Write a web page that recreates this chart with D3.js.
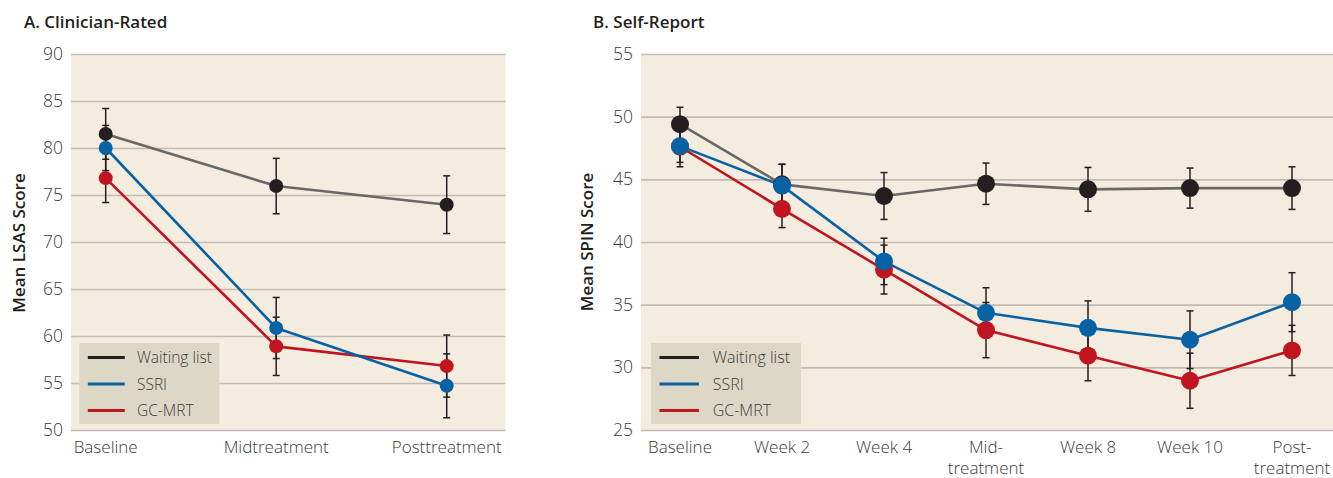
<!DOCTYPE html>
<html>
<head>
<meta charset="utf-8">
<script src="https://cdn.jsdelivr.net/npm/d3@7/dist/d3.min.js"></script>
<style>
  html, body { margin: 0; padding: 0; background: #fff; }
  svg { display: block; font-family: "Open Sans", sans-serif; }
</style>
</head>
<body>
<svg id="chart" width="1333" height="478"></svg>
<script>
// ---- Panel A: clinician-rated LSAS ----
const categoriesA = ["Baseline", "Midtreatment", "Posttreatment"];
const waitA = [81.5, 75.95, 73.97];
const waitErrA = [2.7, 2.95, 3.07];
const ssriA = [80.0, 60.85, 54.7];
const ssriErrA = [2.4, 3.25, 3.4];
const gcmrtA = [76.8, 58.9, 56.8];
const gcmrtErrA = [2.6, 3.1, 3.3];
const yTicksA = [50, 55, 60, 65, 70, 75, 80, 85, 90];

// ---- Panel B: self-report SPIN ----
const categoriesB = ["Baseline", "Week 2", "Week 4", "Mid-\ntreatment", "Week 8", "Week 10", "Post-\ntreatment"];
const waitB = [49.4, 44.6, 43.67, 44.65, 44.2, 44.3, 44.3];
const waitErrB = [1.35, 1.6, 1.87, 1.65, 1.75, 1.6, 1.7];
const ssriB = [47.65, 44.5, 38.45, 34.35, 33.15, 32.2, 35.2];
const ssriErrB = [1.3, 1.7, 1.85, 2.0, 2.15, 2.3, 2.35];
const gcmrtB = [47.6, 42.65, 37.8, 32.97, 30.93, 28.93, 31.35];
const gcmrtErrB = [1.6, 1.5, 1.95, 2.2, 2.0, 2.2, 2.0];
const yTicksB = [25, 30, 35, 40, 45, 50, 55];

const seriesNames = ["Waiting list", "SSRI", "GC-MRT"];

const COLORS = {
  "Waiting list": { line: "#686868", dot: "#231f20", legend: "#231f20" },
  "SSRI": { line: "#0762a3", dot: "#0762a3", legend: "#0762a3" },
  "GC-MRT": { line: "#c0141f", dot: "#c0141f", legend: "#c0141f" }
};

const svg = d3.select("#chart");

function panel(cfg) {
  const g = svg.append("g");
  const x = d3.scalePoint().domain(cfg.categories).range(cfg.pointRange);
  const y = d3.scaleLinear().domain(cfg.yDomain).range([cfg.bottom, cfg.top]);

  // plot background
  g.append("rect")
    .attr("x", cfg.left).attr("y", cfg.top)
    .attr("width", cfg.right - cfg.left).attr("height", cfg.bottom - cfg.top)
    .attr("fill", "#f5ece0");

  // gridlines + tick labels
  const yAxis = d3.axisLeft(y).tickValues(cfg.yTicks).tickSize(-(cfg.right - cfg.left)).tickPadding(8);
  const ya = g.append("g").attr("transform", `translate(${cfg.left},0)`).call(yAxis);
  ya.select(".domain").remove();
  ya.selectAll(".tick line").attr("stroke", "#c3bcb6").attr("stroke-width", 1.6);
  ya.selectAll(".tick text")
    .attr("fill", "#3b3b3b").attr("font-size", 17.5).attr("font-family", "'Open Sans', sans-serif")
    .attr("font-weight", 300);

  // x labels
  const xl = g.append("g");
  cfg.categories.forEach(c => {
    const parts = c.split("\n");
    const t = xl.append("text")
      .attr("x", x(c)).attr("y", cfg.bottom + 23)
      .attr("text-anchor", "middle")
      .attr("fill", "#3b3b3b").attr("font-size", 17).attr("font-weight", 300);
    parts.forEach((p, i) => {
      t.append("tspan").attr("x", x(c)).attr("dy", i === 0 ? 0 : 21).text(p);
    });
  });

  // title
  g.append("text").attr("x", cfg.titleX).attr("y", 27.5)
    .attr("font-size", 17).attr("font-weight", 600).attr("fill", "#231f20")
    .text(cfg.title);

  // y axis label
  g.append("text")
    .attr("transform", `translate(${cfg.yLabelX},${cfg.yLabelY}) rotate(-90)`)
    .attr("text-anchor", "middle")
    .attr("font-size", 17).attr("font-weight", 600).attr("fill", "#231f20")
    .text(cfg.yLabel);

  const data = {
    "Waiting list": { v: cfg.wait, e: cfg.waitErr },
    "SSRI": { v: cfg.ssri, e: cfg.ssriErr },
    "GC-MRT": { v: cfg.gcmrt, e: cfg.gcmrtErr }
  };

  const line = d3.line().x(d => x(d.c)).y(d => y(d.v));
  const drawOrder = ["Waiting list", "GC-MRT", "SSRI"];

  // connecting lines
  drawOrder.forEach(name => {
    const pts = cfg.categories.map((c, i) => ({ c, v: data[name].v[i] }));
    g.append("path").datum(pts)
      .attr("d", line).attr("fill", "none")
      .attr("stroke", COLORS[name].line).attr("stroke-width", 2.6)
      .attr("stroke-linejoin", "round");
  });

  // error bars
  drawOrder.forEach(name => {
    cfg.categories.forEach((c, i) => {
      const v = data[name].v[i], e = data[name].e[i];
      const cx = x(c), y1 = y(v + e), y2 = y(v - e);
      const eb = g.append("g").attr("stroke", "#231f20").attr("stroke-width", 1.5);
      eb.append("line").attr("x1", cx).attr("x2", cx).attr("y1", y1).attr("y2", y2);
      eb.append("line").attr("x1", cx - 3.5).attr("x2", cx + 3.5).attr("y1", y1).attr("y2", y1);
      eb.append("line").attr("x1", cx - 3.5).attr("x2", cx + 3.5).attr("y1", y2).attr("y2", y2);
    });
  });

  // markers
  drawOrder.forEach(name => {
    cfg.categories.forEach((c, i) => {
      g.append("circle")
        .attr("cx", x(c)).attr("cy", y(data[name].v[i]))
        .attr("r", cfg.r).attr("fill", COLORS[name].dot);
    });
  });

  // legend
  const lg = g.append("g").attr("transform", `translate(${cfg.legend.x},${cfg.legend.y})`);
  lg.append("rect").attr("width", cfg.legend.w).attr("height", 81).attr("fill", "#ddd8c5");
  seriesNames.forEach((name, i) => {
    const ly = 14.5 + i * 26.5;
    lg.append("line").attr("x1", 8.5).attr("x2", 8.5 + cfg.legend.lineLen)
      .attr("y1", ly).attr("y2", ly)
      .attr("stroke", COLORS[name].legend).attr("stroke-width", 3);
    lg.append("text").attr("x", cfg.legend.textX).attr("y", ly + 5.5)
      .attr("font-size", cfg.legend.fs).attr("font-weight", 300).attr("fill", "#3b3b3b")
      .text(name);
  });
}

panel({
  title: "A. Clinician-Rated", titleX: 24,
  yLabel: "Mean LSAS Score", yLabelX: 25, yLabelY: 243,
  categories: categoriesA, pointRange: [105.7, 446.7],
  left: 71, right: 505.5, top: 54, bottom: 430,
  yDomain: [50, 90], yTicks: yTicksA,
  wait: waitA, waitErr: waitErrA, ssri: ssriA, ssriErr: ssriErrA, gcmrt: gcmrtA, gcmrtErr: gcmrtErrA,
  r: 7,
  legend: { x: 79.3, y: 343, w: 140, lineLen: 37, textX: 57.7, fs: 15.5 }
});

panel({
  title: "B. Self-Report", titleX: 593,
  yLabel: "Mean SPIN Score", yLabelX: 593, yLabelY: 242,
  categories: categoriesB, pointRange: [680, 1292],
  left: 641, right: 1333, top: 54, bottom: 430,
  yDomain: [25, 55], yTicks: yTicksB,
  wait: waitB, waitErr: waitErrB, ssri: ssriB, ssriErr: ssriErrB, gcmrt: gcmrtB, gcmrtErr: gcmrtErrB,
  r: 9,
  legend: { x: 651, y: 343, w: 150, lineLen: 39.4, textX: 61.7, fs: 16 }
});
</script>
</body>
</html>
